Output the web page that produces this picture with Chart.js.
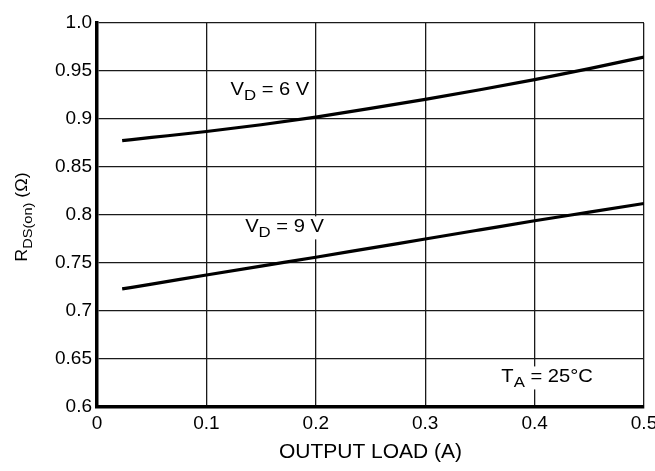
<!DOCTYPE html>
<html>
<head>
<meta charset="utf-8">
<script src="https://cdn.jsdelivr.net/npm/chart.js@4/dist/chart.umd.min.js"></script>
<style>
  body { margin: 0; background: #fff; }
  #wrap { width: 655px; height: 471px; }
</style>
</head>
<body>
<div id="wrap"><canvas id="chartrds"></canvas></div>
<script>
// data
var loadA  = [0.023, 0.05, 0.1, 0.15, 0.2, 0.25, 0.3, 0.35, 0.4, 0.45, 0.5];
var rdsVd6 = [0.8775, 0.8808, 0.887, 0.894, 0.902, 0.911, 0.9205, 0.9305, 0.941, 0.9525, 0.9645];
var rdsVd9 = [0.723, 0.728, 0.7375, 0.7468, 0.756, 0.7655, 0.775, 0.7845, 0.794, 0.803, 0.812];

var xTickLabels = ['0', '0.1', '0.2', '0.3', '0.4', '0.5'];
var yTickLabels = ['0.6', '0.65', '0.7', '0.75', '0.8', '0.85', '0.9', '0.95', '1.0'];

var FONT = '"Liberation Sans", Arial, sans-serif';
var SX = 1.12; // source lettering is a bit wider than Arial

function pts(ys) {
    var out = [];
    for (var i = 0; i < loadA.length; i++) out.push({x: loadA[i], y: ys[i]});
    return out;
}

// text with a subscript, on a white patch (cuts the grid like the original)
function drawSubLabel(ctx, x, y, main, sub, rest) {
    ctx.save();
    ctx.translate(x, y);
    ctx.scale(SX, 1);
    ctx.font = '18px ' + FONT;
    var w1 = ctx.measureText(main).width;
    var w3 = ctx.measureText(rest).width;
    ctx.font = '15px ' + FONT;
    var w2 = ctx.measureText(sub).width;
    ctx.fillStyle = '#fff';
    ctx.fillRect(-3, -16, w1 + w2 + w3 + 6, 23);
    ctx.fillStyle = '#000';
    ctx.textBaseline = 'alphabetic';
    ctx.textAlign = 'left';
    ctx.font = '18px ' + FONT;
    ctx.fillText(main, 0, 0);
    ctx.fillText(rest, w1 + w2, 0);
    ctx.font = '15px ' + FONT;
    ctx.fillText(sub, w1, 5);
    ctx.restore();
}

var annotate = {
    id: 'annotate',
    afterDatasetsDraw: function (chart) {
        var ctx = chart.ctx, xs = chart.scales.x, ys = chart.scales.y;
        drawSubLabel(ctx, xs.getPixelForValue(0.122), ys.getPixelForValue(0.9247), 'V', 'D', ' = 6 V');
        drawSubLabel(ctx, xs.getPixelForValue(0.1354), ys.getPixelForValue(0.7819), 'V', 'D', ' = 9 V');
        drawSubLabel(ctx, xs.getPixelForValue(0.3696), ys.getPixelForValue(0.6256), 'T', 'A', ' = 25°C');
    },
    afterDraw: function (chart) {
        // y axis title R_DS(on) (Ω), rotated
        var ctx = chart.ctx;
        ctx.save();
        ctx.font = '16px ' + FONT;
        var a = ctx.measureText('R').width, c = ctx.measureText(' (Ω)').width;
        ctx.font = '13px ' + FONT;
        var b = ctx.measureText('DS(on)').width;
        var total = (a + b + c) * SX;
        var cy = (chart.chartArea.top + chart.chartArea.bottom) / 2 + 2;
        ctx.translate(27, cy + total / 2);
        ctx.rotate(-Math.PI / 2);
        ctx.scale(SX, 1);
        ctx.fillStyle = '#000';
        ctx.textAlign = 'left';
        ctx.textBaseline = 'alphabetic';
        ctx.font = '16px ' + FONT;
        ctx.fillText('R', 0, 0);
        ctx.fillText(' (Ω)', a + b, 0);
        ctx.font = '13px ' + FONT;
        ctx.fillText('DS(on)', a, 5);
        ctx.restore();
    }
};

var ctx = document.getElementById('chartrds');

var rdsChart = new Chart(ctx, {
    type: 'line',
    data: {
        datasets: [{
            label: 'VD = 6 V',
            data: pts(rdsVd6),
            borderColor: '#000',
            borderWidth: 3.2,
            pointRadius: 0,
            cubicInterpolationMode: 'monotone'
        }, {
            label: 'VD = 9 V',
            data: pts(rdsVd9),
            borderColor: '#000',
            borderWidth: 3.2,
            pointRadius: 0,
            cubicInterpolationMode: 'monotone'
        }]
    },
    options: {
        responsive: true,
        maintainAspectRatio: false,
        animation: false,
        layout: { padding: { top: 23, right: 11, left: 0, bottom: 0 } },
        plugins: {
            legend: { display: false },
            tooltip: { enabled: false }
        },
        scales: {
            x: {
                type: 'linear',
                min: 0,
                max: 0.5,
                afterFit: function (s) { s.height = 64; s.paddingLeft = 0; s.paddingRight = 0; },
                ticks: {
                    stepSize: 0.1,
                    color: '#000',
                    padding: 5,
                    maxRotation: 0,
                    font: { family: FONT, size: 19 },
                    callback: function (v) { return xTickLabels[Math.round(v / 0.1)]; }
                },
                grid: { color: '#1a1a1a', lineWidth: 1.3, drawTicks: false },
                border: { color: '#000', width: 3.5 },
                title: {
                    display: true,
                    text: 'OUTPUT LOAD (A)',
                    color: '#000',
                    font: { family: FONT, size: 21 },
                    padding: { top: 0, bottom: 6 }
                }
            },
            y: {
                min: 0.6,
                max: 1.0,
                afterFit: function (s) { s.width = 97; s.paddingTop = 0; s.paddingBottom = 0; },
                ticks: {
                    stepSize: 0.05,
                    color: '#000',
                    padding: 5,
                    font: { family: FONT, size: 19 },
                    callback: function (v) { return yTickLabels[Math.round((v - 0.6) / 0.05)]; }
                },
                grid: { color: '#1a1a1a', lineWidth: 1.3, drawTicks: false },
                border: { color: '#000', width: 3.5 }
            }
        }
    },
    plugins: [annotate]
});
</script>
</body>
</html>
